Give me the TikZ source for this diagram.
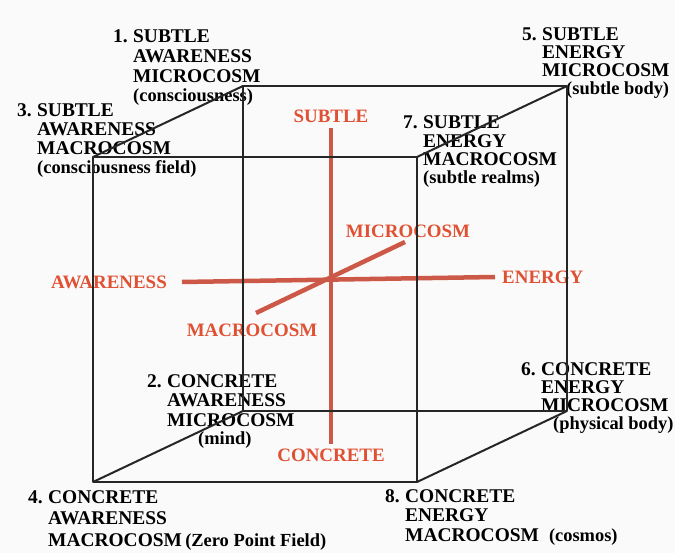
\documentclass[tikz,border=0pt]{standalone}
\usepackage{fontspec}
\setmainfont{Liberation Serif}
\usetikzlibrary{positioning}
\definecolor{axisred}{RGB}{204,88,72}
\definecolor{labelred}{RGB}{224,80,50}
\newcommand{\cubelabel}[2]{\begin{tabular}[t]{@{}l@{}}\llap{\makebox[20bp][l]{#1}}#2\end{tabular}}
\newcommand{\aside}[1]{{\fontsize{18.5}{19.5}\selectfont #1}}
\tikzset{
	edge/.style={line width=2bp, black!85, line join=round},
	axis/.style={line width=4.5bp, axisred},
	pole/.style={text=labelred, font=\bfseries\fontsize{19}{20}\selectfont, inner sep=0pt},
	cornerlbl/.style={font=\bfseries\fontsize{19.5}{20}\selectfont, inner sep=0pt, anchor=base west},
}
\begin{document}
\begin{tikzpicture}[x=1bp,y=-1bp]
				\fill [white!98!black] (0,0) rectangle (675,553);
				% Corner labels
				\node (c1) [cornerlbl] at (133,43) {\cubelabel{1.}{SUBTLE\\AWARENESS\\MICROCOSM\\[-1bp]\aside{(consciousness)}}};
				\node (c3) [cornerlbl] at (37,117) {\cubelabel{3.}{SUBTLE\\[-1bp]AWARENESS\\[-1bp]MACROCOSM\\[-1bp]\aside{(consciousness field)}}};
				\node (c5) [cornerlbl] at (542,41) {\cubelabel{5.}{SUBTLE\\[-2bp]ENERGY\\[-2bp]MICROCOSM\\[-2bp]\hspace*{24bp}\aside{(subtle body)}}};
				\node (c7) [cornerlbl] at (423,129) {\cubelabel{7.}{SUBTLE\\[-1bp]ENERGY\\[-2bp]MACROCOSM\\[-2bp]\aside{(subtle realms)}}};
				\node (c2) [cornerlbl] at (167,387) {\cubelabel{2.}{CONCRETE\\AWARENESS\\MICROCOSM\\[-2bp]\hspace*{31bp}\aside{(mind)}}};
				\node (c4) [cornerlbl] at (48,503) {\cubelabel{4.}{CONCRETE\\[2bp]AWARENESS\\[2bp]MACROCOSM\,\aside{(Zero Point Field)}}};
				\node (c6) [cornerlbl] at (541,375) {\cubelabel{6.}{CONCRETE\\[-1bp]ENERGY\\[-2bp]MICROCOSM\\[-2bp]\hspace*{12bp}\aside{(physical body)}}};
				\node (c8) [cornerlbl] at (405,502) {\cubelabel{8.}{CONCRETE\\ENERGY\\MACROCOSM\hspace{10bp}\aside{(cosmos)}}};
				% Axes
				\coordinate (su) at (331,128);
				\coordinate (co) at (331,444);
				\coordinate (aw) at (182,282);
				\coordinate (en) at (495,277);
				\coordinate (ma) at (256,313);
				\coordinate (mi) at (405,242);
				\draw [axis] (su) -- (co);
				\draw [axis] (aw) -- (en);
				\draw [axis] (ma) -- (mi);
				\node (subtle) [pole, above=5bp of su] {SUBTLE};
				\node (concrete) [pole, below=5bp of co] {CONCRETE};
				\node (awareness) [pole, left=15bp of aw] {AWARENESS};
				\node (energy) [pole, right=7bp of en] {ENERGY};
				\node (micro) [pole, above=4bp of mi, xshift=3bp] {MICROCOSM};
				\node (macro) [pole, below=11bp of ma, xshift=-4bp] {MACROCOSM};
				% Cube
				\coordinate (fTL) at (93,157);
				\coordinate (fTR) at (417,157);
				\coordinate (fBR) at (417,482);
				\coordinate (fBL) at (93,482);
				\coordinate (bTL) at (243,86);
				\coordinate (bTR) at (567,86);
				\coordinate (bBR) at (567,411);
				\coordinate (bBL) at (243,411);
				\draw [edge] (bTL) -- (bTR) -- (bBR) -- (bBL) -- cycle;
				\draw [edge] (fTL) -- (fTR) -- (fBR) -- (fBL) -- cycle;
				\draw [edge] (fTL) -- (bTL);
				\draw [edge] (fTR) -- (bTR);
				\draw [edge] (fBR) -- (bBR);
				\draw [edge] (fBL) -- (bBL);
			\end{tikzpicture}
\end{document}
